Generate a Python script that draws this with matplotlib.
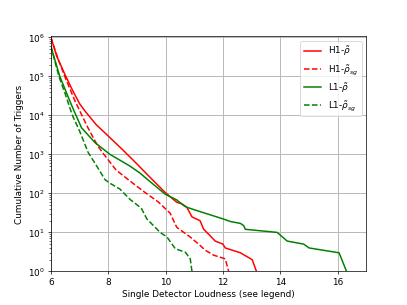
#Cumulative trigger counts per detector

#importing the libraries
import numpy as np
import matplotlib
matplotlib.use('Agg')
import matplotlib.pyplot as plt

#Values
h1_x = [6.0, 6.2, 6.49, 6.75, 7.0, 7.19, 7.57, 8.0, 8.5, 8.94, 9.5, 9.99, 10.39, 10.57,
        10.74, 10.92, 11.2, 11.33, 11.5, 11.73, 12.0, 12.08, 12.61, 13.02, 13.17]
h1_n = [1e6, 331000, 112000, 44700, 20000, 12900, 5900, 2950, 1320, 631, 240, 105, 59, 54,
        44, 25, 20, 12, 9, 6, 5, 4, 3, 2, 1]

h1sg_x = [6.0, 6.25, 6.5, 6.84, 7.05, 7.3, 7.63, 7.85, 8.27, 8.7, 9.25, 9.75, 10.16, 10.28,
          10.39, 10.86, 11.21, 11.38, 11.68, 12.08, 12.2]
h1sg_n = [1e6, 282000, 93000, 23400, 11200, 4700, 1660, 1000, 400, 224, 110, 60, 31, 20,
          13.5, 7.6, 4.6, 3.5, 2.6, 2.1, 1]

l1_x = [6.0, 6.31, 6.66, 6.81, 7.07, 7.54, 8.06, 8.76, 9.11, 9.46, 9.99, 10.39, 10.63, 10.74,
        11.21, 12.02, 12.26, 12.61, 12.72, 12.78, 13.89, 14.24, 14.82, 15.0, 16.05, 16.31]
l1_n = [589000, 100000, 23400, 12900, 4790, 2000, 1000, 500, 330, 200, 95, 68, 49, 44,
        34, 22, 19, 17, 15, 12, 10, 6, 5, 4, 3, 1]

l1sg_x = [6.0, 6.28, 6.5, 6.75, 7.0, 7.3, 7.6, 7.89, 8.06, 8.41, 8.76, 9.15, 9.35, 9.81,
          10.05, 10.34, 10.69, 10.86, 10.92]
l1sg_n = [589000, 100000, 35500, 10000, 3980, 1120, 501, 224, 182, 129, 70, 42, 22, 10,
          7.6, 3.8, 3.1, 2.1, 1]

#Plotting
fig, ax = plt.subplots(figsize=(6.4, 4.8), dpi=63.6)
ax.plot(h1_x, h1_n, color='r', linewidth=1.7, label=r'H1-$\tilde{\rho}$')
ax.plot(h1sg_x, h1sg_n, color='r', linewidth=1.7, linestyle='--', label=r'H1-$\tilde{\rho}_{sg}$')
ax.plot(l1_x, l1_n, color='g', linewidth=1.7, label=r'L1-$\tilde{\rho}$')
ax.plot(l1sg_x, l1sg_n, color='g', linewidth=1.7, linestyle='--', label=r'L1-$\tilde{\rho}_{sg}$')

ax.set_yscale('log')
ax.set_xlim(6, 17)
ax.set_ylim(1, 1.06e6)
ax.grid(True, which='major', linewidth=1.1, color='#b8b8b8')
ax.legend(loc='upper right')
ax.set_xlabel('Single Detector Loudness (see legend)')
ax.set_ylabel('Cumulative Number of Triggers')

fig.savefig('out.png', dpi=63.6)
